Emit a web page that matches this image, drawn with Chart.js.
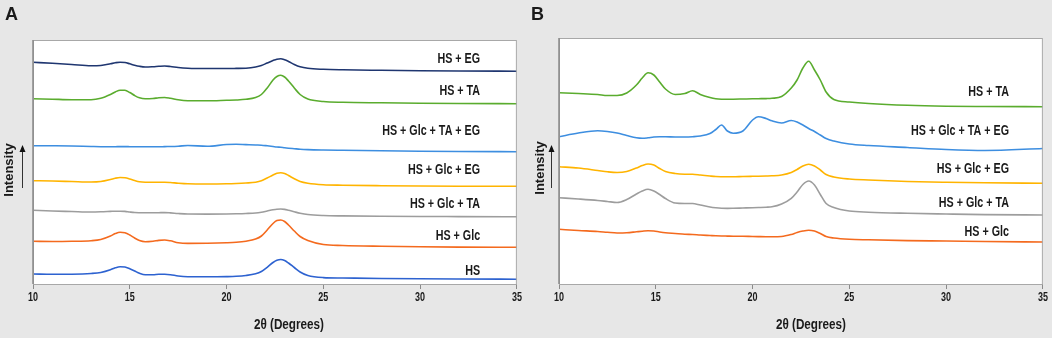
<!DOCTYPE html>
<html>
<head>
<meta charset="utf-8">
<script src="https://cdn.jsdelivr.net/npm/chart.js@4.4.1/dist/chart.umd.min.js"></script>
<style>
  html, body { margin: 0; padding: 0; background: #e7e7e7; }
  #wrap { position: relative; width: 1052px; height: 338px; overflow: hidden; background: #e7e7e7; }
  canvas { position: absolute; top: 0; }
  #ca { left: 0; }
  #cb { left: 526px; }
</style>
</head>
<body>
<div id="wrap">
  <canvas id="ca" width="526" height="338"></canvas>
  <canvas id="cb" width="526" height="338"></canvas>
</div>
<script>
// ---------- Panel A data (2θ in degrees, stacked intensity in a.u.) ----------
const xA = [10, 11, 12, 13, 13.5, 14, 14.25, 14.5, 14.75, 15, 15.25, 15.5, 15.8, 16.2, 16.5, 16.8, 17.1, 17.5, 18, 19, 20, 20.5, 21, 21.5, 21.8, 22.1, 22.4, 22.6, 22.8, 23, 23.2, 23.5, 23.8, 24.2, 25, 26, 28, 30, 32, 35];
const A_HS_EG = [221.7, 220.7, 219.5, 218.2, 218.5, 220.2, 221.2, 221.8, 221.5, 220.2, 218.8, 217.7, 217, 217.3, 217.7, 218, 217.5, 216.5, 215.8, 215.5, 215.5, 215.6, 215.8, 217, 218.5, 221, 223.5, 224.8, 225.2, 224.2, 222.5, 219.5, 217.2, 215.7, 214.7, 214.2, 213.7, 213.3, 213, 212.8];
const A_HS_TA = [185.3, 184.8, 184.3, 184.3, 185.7, 189.5, 192, 193.8, 193.7, 191.5, 188.5, 186.2, 185.2, 185.5, 186.2, 186.5, 185.7, 184.2, 183.3, 183.2, 183.7, 184, 184.7, 186.5, 189.5, 196, 204, 207.5, 208.7, 207, 203, 196, 189.5, 185, 182.5, 181.7, 181.2, 180.8, 180.5, 180.3];
const A_HS_GLC_TA_EG = [138.3, 138.2, 138, 137.5, 137.3, 137.3, 137.3, 137.4, 137.4, 137.3, 137.2, 137.2, 137.2, 137.2, 137.2, 137.4, 137.5, 137.8, 138.5, 137.7, 139.5, 139.8, 139.4, 139, 138.8, 138.2, 137.5, 137, 136.7, 136.2, 135.8, 135.3, 134.8, 134.4, 134, 133.7, 133.2, 132.8, 132.5, 132.3];
const A_HS_GLC_EG = [103.3, 103, 102.5, 102, 102.5, 104.5, 105.8, 106.5, 106.2, 105, 103.5, 102.3, 101.8, 101.7, 101.8, 101.8, 101.5, 100.8, 100.2, 100, 100.2, 100.5, 101, 101.8, 103.2, 106, 109, 110.8, 111.3, 110.5, 108.5, 105.2, 102.5, 100.8, 99.3, 98.8, 98.3, 98, 97.8, 97.7];
const A_HS_GLC_TA = [73.7, 73, 72.5, 72, 72.2, 72.6, 72.8, 72.8, 72.6, 72, 71.5, 71.3, 71.2, 71.2, 71.3, 71.4, 71.1, 70.5, 70, 69.9, 70, 70.2, 70.5, 71, 71.8, 73, 74.2, 74.8, 75, 74.6, 73.7, 72.2, 70.8, 69.5, 68.5, 68.1, 67.7, 67.5, 67.4, 67.3];
const A_HS_GLC = [42.7, 42.5, 42.7, 43.3, 44.5, 48, 50.4, 51.7, 51.2, 49, 46, 43.5, 42.3, 42.8, 43.6, 44, 43.2, 41.3, 40.6, 40.7, 41.2, 41.7, 42.8, 45, 48, 54, 60.5, 63.5, 64, 62.5, 59, 53, 47.5, 43.5, 39.5, 38.5, 37.7, 37.2, 36.9, 36.7];
const A_HS = [10, 9.7, 9.8, 10.5, 11.5, 14.2, 16.2, 17.3, 17, 15.2, 13, 10.7, 9.2, 9.3, 9.7, 9.8, 9.3, 8, 7.3, 7.2, 7.4, 7.7, 8.5, 10.2, 12.5, 16.7, 21.5, 23.7, 24.5, 23.5, 21, 16.5, 12, 8.5, 6.4, 6, 5.5, 5.2, 5, 4.8];
const namesA = ['HS + EG', 'HS + TA', 'HS + Glc + TA + EG', 'HS + Glc + EG', 'HS + Glc + TA', 'HS + Glc', 'HS'];
const labelYA = [225.3, 192.7, 153.5, 114, 80.5, 48.2, 13.5];

// ---------- Panel B data ----------
const xB = [10, 11, 12, 12.5, 13, 13.5, 14, 14.3, 14.6, 14.9, 15.2, 15.5, 16, 16.5, 16.9, 17.3, 17.8, 18.1, 18.4, 18.7, 19, 19.5, 20, 20.3, 20.7, 21, 21.5, 22, 22.3, 22.6, 22.9, 23.2, 23.5, 23.8, 24.2, 25, 26, 28, 30, 32, 35];
const B_HS_TA = [191.3, 190.5, 189.5, 188.5, 188.5, 191, 199, 206, 211.2, 209, 202, 195, 189.5, 190.5, 193.3, 189.5, 186.5, 185.3, 184.8, 184.7, 184.8, 185, 185.2, 185.3, 185.4, 185.7, 187.5, 196, 204, 216, 222.8, 214, 204, 192, 184.5, 182, 180.5, 178.7, 177.8, 177.5, 177.3];
const B_HS_GLC_TA_EG = [147.3, 151, 153.2, 152.5, 151, 148.5, 146.2, 145.7, 146.2, 147, 147.2, 147.2, 147, 147, 147.3, 148, 150.5, 154.5, 159, 153, 150.7, 153, 164, 167.3, 165.5, 163.2, 161, 163.5, 162, 159, 155.5, 152.5, 149, 145.5, 143, 140, 138.5, 136.5, 134.5, 133.5, 135.5];
const B_HS_GLC_EG = [117.3, 116, 113.5, 112.2, 111.5, 112.5, 116, 118.5, 120, 119, 115.5, 112.5, 110.5, 109.8, 109.7, 109, 108, 107.5, 107.3, 107.2, 107.2, 107.5, 107.7, 107.8, 108, 108.2, 109, 111.5, 114.5, 118, 119.7, 118, 114, 109.5, 107, 105, 104, 102.5, 101.7, 101.2, 100.7];
const B_HS_GLC_TA = [86.3, 85, 83.5, 82.5, 81.5, 84.5, 90, 93, 94.7, 93, 89.5, 85.5, 81, 80.5, 80.5, 79, 77, 76.2, 75.7, 75.6, 75.7, 76, 76.3, 76.5, 76.8, 77.2, 80, 85.7, 92, 99.5, 103, 99, 89.5, 80.5, 76.5, 73, 71.8, 70.7, 70, 69.4, 69];
const B_HS_GLC = [54.7, 53.5, 52.5, 51.7, 51, 51.2, 52.2, 52.8, 53.3, 53, 52, 51.2, 50.5, 49.8, 49.5, 49, 48.5, 48.2, 48, 47.9, 47.8, 47.7, 47.5, 47.4, 47.3, 47.3, 47.5, 49.5, 51.5, 53, 53.8, 53, 50.5, 47.5, 46, 44.7, 44.2, 43.4, 43, 42.5, 42];
const namesB = ['HS + TA', 'HS + Glc + TA + EG', 'HS + Glc + EG', 'HS + Glc + TA', 'HS + Glc'];
const labelYB = [192.3, 153.3, 115, 80.7, 52.3];

const xTicks = [10, 15, 20, 25, 30, 35];

// ---------- styling ----------
const C = {
  navy: '#1f3670', green: '#5aac2e', lblue: '#3d8ee0', yellow: '#ffb400',
  gray: '#9d9d9d', orange: '#f46a1e', blue: '#2d62d0'
};
const SANS = "'Liberation Sans', Arial, sans-serif";

function mk(xs, ys, color) {
  return {
    data: xs.map((x, i) => ({ x: x, y: ys[i] })),
    borderColor: color, borderWidth: 1.6, pointRadius: 0,
    cubicInterpolationMode: 'monotone', fill: false
  };
}

// draw horizontally condensed text (the original uses a condensed DIN-like face)
function narrowText(ctx, text, x, y, k, align) {
  ctx.save();
  ctx.translate(x, y);
  ctx.scale(k, 1);
  ctx.textAlign = align;
  ctx.fillText(text, 0, 0);
  ctx.restore();
}

const decorPlugin = {
  id: 'decor',
  beforeDatasetsDraw(chart) {
    const { ctx, chartArea: a } = chart;
    ctx.save();
    ctx.fillStyle = '#ffffff';
    ctx.fillRect(a.left, a.top, a.right - a.left, a.bottom - a.top);
    ctx.restore();
  },
  afterDraw(chart, args, o) {
    const { ctx, chartArea: a, scales } = chart;
    ctx.save();
    // frame
    ctx.strokeStyle = '#a8a8a8';
    ctx.lineWidth = 1;
    ctx.strokeRect(a.left + 0.5, a.top + 0.5, a.right - a.left - 1, a.bottom - a.top);
    ctx.strokeStyle = '#8a8a8a';
    ctx.lineWidth = 1.5;
    ctx.beginPath();
    ctx.moveTo(a.left, a.top); ctx.lineTo(a.left, a.bottom); ctx.stroke();
    ctx.fillStyle = '#1a1a1a';
    ctx.textBaseline = 'middle';
    // tick labels from the library's x scale
    ctx.font = 'bold 12px ' + SANS;
    scales.x.ticks.forEach(t => {
      narrowText(ctx, String(t.value), scales.x.getPixelForValue(t.value), 298, 0.75, 'center');
    });
    // series labels
    ctx.font = 'bold 14.5px ' + SANS;
    o.names.forEach((n, i) => {
      narrowText(ctx, n, scales.x.getPixelForValue(o.labelX), scales.y.getPixelForValue(o.labelY[i]), 0.74, 'right');
    });
    // x title
    ctx.font = 'bold 15px ' + SANS;
    narrowText(ctx, '2θ (Degrees)', (a.left + a.right) / 2 + o.titleShift, 325, 0.78, 'center');
    // panel letter
    ctx.font = 'bold 18px ' + SANS;
    ctx.textAlign = 'left';
    ctx.textBaseline = 'alphabetic';
    ctx.fillText(o.letter, o.letterX, 20);
    // Intensity label
    ctx.save();
    ctx.translate(o.intX, o.intY);
    ctx.rotate(-Math.PI / 2);
    ctx.font = 'bold 13px ' + SANS;
    ctx.textAlign = 'center';
    ctx.textBaseline = 'middle';
    ctx.fillText('Intensity', 0, 0);
    ctx.restore();
    // arrow
    ctx.strokeStyle = '#333';
    ctx.fillStyle = '#111';
    ctx.lineWidth = 1;
    ctx.beginPath();
    ctx.moveTo(o.arrX + 0.5, 188); ctx.lineTo(o.arrX + 0.5, 150); ctx.stroke();
    ctx.beginPath();
    ctx.moveTo(o.arrX + 0.5, 145); ctx.lineTo(o.arrX - 2.5, 152); ctx.lineTo(o.arrX + 3.5, 152); ctx.closePath(); ctx.fill();
    ctx.restore();
  }
};

function opts(top, ymax, decor) {
  return {
    responsive: false, animation: false, devicePixelRatio: 1,
    layout: { padding: { left: 33, right: 8, top: top, bottom: 0 } },
    plugins: { legend: { display: false }, tooltip: { enabled: false }, decor: decor },
    scales: {
      x: {
        type: 'linear', min: 10, max: 35,
        afterBuildTicks: (s) => { s.ticks = xTicks.map(v => ({ value: v })); },
        afterFit: (s) => { s.height = 54; },
        ticks: { color: 'rgba(0,0,0,0)', font: { size: 11 }, padding: 3, maxRotation: 0, autoSkip: false },
        grid: { drawOnChartArea: false, drawTicks: true, tickLength: 5, color: '#8a8a8a' },
        border: { display: true, color: '#8a8a8a', width: 1 },
        title: { display: false }
      },
      y: { display: false, min: 0, max: ymax }
    }
  };
}

new Chart(document.getElementById('ca'), {
  type: 'line',
  data: { datasets: [
    mk(xA, A_HS_EG, C.navy), mk(xA, A_HS_TA, C.green), mk(xA, A_HS_GLC_TA_EG, C.lblue),
    mk(xA, A_HS_GLC_EG, C.yellow), mk(xA, A_HS_GLC_TA, C.gray), mk(xA, A_HS_GLC, C.orange), mk(xA, A_HS, C.blue)
  ] },
  options: opts(40, 244, { names: namesA, labelY: labelYA, labelX: 33.1, titleShift: 14, letter: 'A', letterX: 5, intX: 9, intY: 170, arrX: 22 }),
  plugins: [decorPlugin]
});

new Chart(document.getElementById('cb'), {
  type: 'line',
  data: { datasets: [
    mk(xB, B_HS_TA, C.green), mk(xB, B_HS_GLC_TA_EG, C.lblue), mk(xB, B_HS_GLC_EG, C.yellow),
    mk(xB, B_HS_GLC_TA, C.gray), mk(xB, B_HS_GLC, C.orange)
  ] },
  options: opts(38, 246, { names: namesB, labelY: labelYB, labelX: 33.25, titleShift: 10, letter: 'B', letterX: 5, intX: 14, intY: 168, arrX: 25 }),
  plugins: [decorPlugin]
});
</script>
</body>
</html>
